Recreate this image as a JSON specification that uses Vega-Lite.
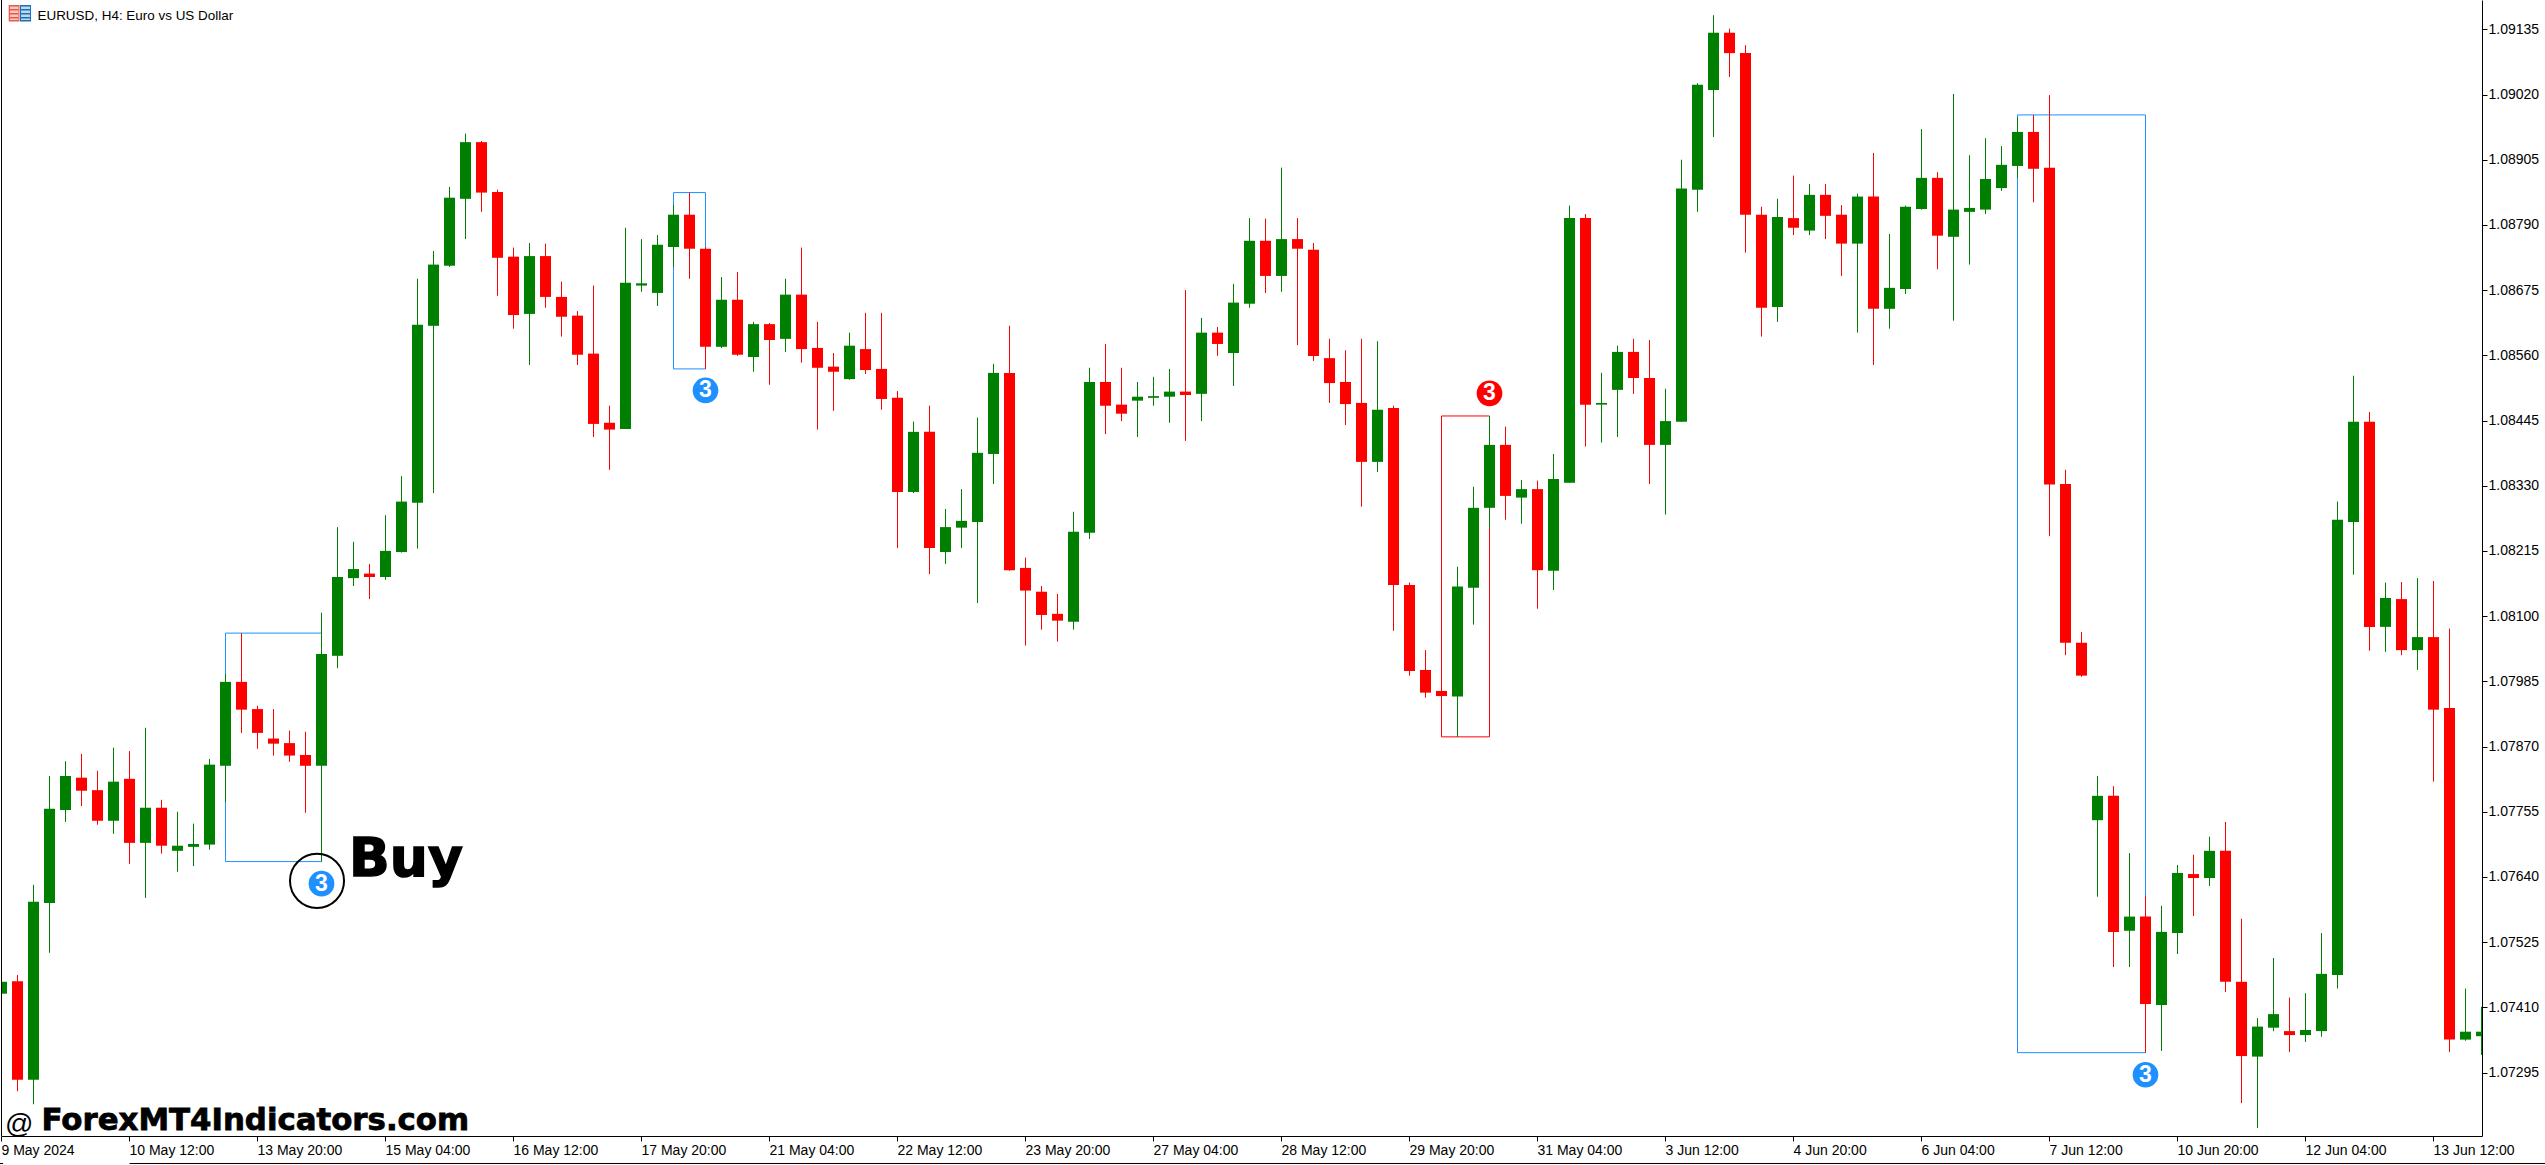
{"$schema":"https://vega.github.io/schema/vega-lite/v6.json","autosize":{"type":"none"},"padding":{"left":1,"top":0,"right":63,"bottom":29},"width":2481,"height":1136,"background":"#ffffff","config":{"view":{"stroke":null}},
"datasets":{
"candles":[
{"k":0,"open":1.07434,"high":1.0746,"low":1.07427,"close":1.07455},
{"k":1,"open":1.07456,"high":1.07467,"low":1.07262,"close":1.07282},
{"k":2,"open":1.07282,"high":1.07626,"low":1.07239,"close":1.07596},
{"k":3,"open":1.07594,"high":1.07818,"low":1.07506,"close":1.0776},
{"k":4,"open":1.07758,"high":1.07844,"low":1.07737,"close":1.07818},
{"k":5,"open":1.07815,"high":1.07857,"low":1.07765,"close":1.07792},
{"k":6,"open":1.07793,"high":1.07827,"low":1.07732,"close":1.07739},
{"k":7,"open":1.07739,"high":1.07868,"low":1.07716,"close":1.07808},
{"k":8,"open":1.07813,"high":1.07862,"low":1.07663,"close":1.077},
{"k":9,"open":1.077,"high":1.07903,"low":1.07603,"close":1.07762},
{"k":10,"open":1.07762,"high":1.07776,"low":1.07681,"close":1.07695},
{"k":11,"open":1.07686,"high":1.07755,"low":1.07649,"close":1.07695},
{"k":12,"open":1.07693,"high":1.07734,"low":1.07659,"close":1.07698},
{"k":13,"open":1.07697,"high":1.07848,"low":1.07688,"close":1.07838},
{"k":14,"open":1.07836,"high":1.07998,"low":1.07772,"close":1.07984},
{"k":15,"open":1.07984,"high":1.0807,"low":1.07894,"close":1.07935},
{"k":16,"open":1.07936,"high":1.07942,"low":1.07866,"close":1.07894},
{"k":17,"open":1.07884,"high":1.07936,"low":1.07854,"close":1.07875},
{"k":18,"open":1.07876,"high":1.07898,"low":1.07843,"close":1.07854},
{"k":19,"open":1.07855,"high":1.07896,"low":1.07753,"close":1.07836},
{"k":20,"open":1.07836,"high":1.08106,"low":1.07667,"close":1.08033},
{"k":21,"open":1.0803,"high":1.08257,"low":1.08008,"close":1.08169},
{"k":22,"open":1.08167,"high":1.08231,"low":1.08153,"close":1.08183},
{"k":23,"open":1.08175,"high":1.08192,"low":1.0813,"close":1.08169},
{"k":24,"open":1.08169,"high":1.08278,"low":1.08164,"close":1.08215},
{"k":25,"open":1.08213,"high":1.08347,"low":1.08212,"close":1.08302},
{"k":26,"open":1.083,"high":1.08695,"low":1.08219,"close":1.08614},
{"k":27,"open":1.08612,"high":1.08744,"low":1.08317,"close":1.0872},
{"k":28,"open":1.08718,"high":1.08857,"low":1.08716,"close":1.08838},
{"k":29,"open":1.08836,"high":1.08951,"low":1.08765,"close":1.08936},
{"k":30,"open":1.08936,"high":1.08938,"low":1.08813,"close":1.08847},
{"k":31,"open":1.08848,"high":1.08852,"low":1.08665,"close":1.08732},
{"k":32,"open":1.08734,"high":1.0875,"low":1.08607,"close":1.08631},
{"k":33,"open":1.08633,"high":1.08758,"low":1.08543,"close":1.08735},
{"k":34,"open":1.08735,"high":1.08757,"low":1.08644,"close":1.08663},
{"k":35,"open":1.08663,"high":1.0869,"low":1.08593,"close":1.08628},
{"k":36,"open":1.0863,"high":1.08638,"low":1.08543,"close":1.08561},
{"k":37,"open":1.08563,"high":1.08683,"low":1.08416,"close":1.08439},
{"k":38,"open":1.08441,"high":1.08471,"low":1.08358,"close":1.08429},
{"k":39,"open":1.0843,"high":1.08785,"low":1.0843,"close":1.08688},
{"k":40,"open":1.08683,"high":1.08765,"low":1.08672,"close":1.08687},
{"k":41,"open":1.0867,"high":1.08772,"low":1.08647,"close":1.08755},
{"k":42,"open":1.08751,"high":1.08825,"low":1.08716,"close":1.08808},
{"k":43,"open":1.08808,"high":1.08847,"low":1.08695,"close":1.08748},
{"k":44,"open":1.08748,"high":1.08751,"low":1.08536,"close":1.08575},
{"k":45,"open":1.08575,"high":1.08698,"low":1.08573,"close":1.08658},
{"k":46,"open":1.08658,"high":1.08707,"low":1.08559,"close":1.08561},
{"k":47,"open":1.08557,"high":1.08619,"low":1.08531,"close":1.08615},
{"k":48,"open":1.08615,"high":1.08617,"low":1.08508,"close":1.08587},
{"k":49,"open":1.08589,"high":1.08695,"low":1.08566,"close":1.08667},
{"k":50,"open":1.08667,"high":1.0875,"low":1.08547,"close":1.08571},
{"k":51,"open":1.08573,"high":1.08619,"low":1.08429,"close":1.08538},
{"k":52,"open":1.0854,"high":1.08564,"low":1.08462,"close":1.08531},
{"k":53,"open":1.08518,"high":1.086,"low":1.08517,"close":1.08577},
{"k":54,"open":1.08571,"high":1.08635,"low":1.08527,"close":1.08534},
{"k":55,"open":1.08536,"high":1.08635,"low":1.08464,"close":1.08483},
{"k":56,"open":1.08485,"high":1.08497,"low":1.0822,"close":1.08319},
{"k":57,"open":1.08319,"high":1.08443,"low":1.08317,"close":1.08425},
{"k":58,"open":1.08425,"high":1.08471,"low":1.08174,"close":1.0822},
{"k":59,"open":1.08213,"high":1.08289,"low":1.08192,"close":1.08257},
{"k":60,"open":1.08256,"high":1.08324,"low":1.0822,"close":1.08268},
{"k":61,"open":1.08266,"high":1.0845,"low":1.08123,"close":1.08388},
{"k":62,"open":1.08386,"high":1.08545,"low":1.08333,"close":1.08529},
{"k":63,"open":1.08529,"high":1.08612,"low":1.0818,"close":1.08181},
{"k":64,"open":1.08185,"high":1.08203,"low":1.08048,"close":1.08145},
{"k":65,"open":1.08143,"high":1.08153,"low":1.08076,"close":1.08102},
{"k":66,"open":1.08104,"high":1.08139,"low":1.08055,"close":1.08092},
{"k":67,"open":1.0809,"high":1.08284,"low":1.08076,"close":1.08249},
{"k":68,"open":1.08247,"high":1.08538,"low":1.08236,"close":1.08513},
{"k":69,"open":1.08513,"high":1.0858,"low":1.08421,"close":1.08471},
{"k":70,"open":1.08473,"high":1.08538,"low":1.08444,"close":1.08457},
{"k":71,"open":1.0848,"high":1.08513,"low":1.08416,"close":1.08487},
{"k":72,"open":1.08485,"high":1.08522,"low":1.08471,"close":1.08488},
{"k":73,"open":1.08487,"high":1.08536,"low":1.08441,"close":1.08496},
{"k":74,"open":1.08496,"high":1.08675,"low":1.08409,"close":1.0849},
{"k":75,"open":1.08492,"high":1.08626,"low":1.08444,"close":1.086},
{"k":76,"open":1.086,"high":1.0861,"low":1.08559,"close":1.0858},
{"k":77,"open":1.08564,"high":1.08686,"low":1.08506,"close":1.08653},
{"k":78,"open":1.08651,"high":1.08802,"low":1.08644,"close":1.08762},
{"k":79,"open":1.08762,"high":1.08801,"low":1.0867,"close":1.087},
{"k":80,"open":1.087,"high":1.08891,"low":1.08672,"close":1.08765},
{"k":81,"open":1.08765,"high":1.08802,"low":1.08578,"close":1.08748},
{"k":82,"open":1.08746,"high":1.08758,"low":1.0855,"close":1.08559},
{"k":83,"open":1.08555,"high":1.08589,"low":1.08476,"close":1.08511},
{"k":84,"open":1.08513,"high":1.08569,"low":1.08437,"close":1.08474},
{"k":85,"open":1.08476,"high":1.08589,"low":1.08293,"close":1.08372},
{"k":86,"open":1.08372,"high":1.08585,"low":1.08354,"close":1.08464},
{"k":87,"open":1.08467,"high":1.08471,"low":1.08074,"close":1.08155},
{"k":88,"open":1.08155,"high":1.08159,"low":1.07995,"close":1.08003},
{"k":89,"open":1.08005,"high":1.0804,"low":1.07956,"close":1.07965},
{"k":90,"open":1.07968,"high":1.07973,"low":1.07938,"close":1.07959},
{"k":91,"open":1.07958,"high":1.08187,"low":1.07887,"close":1.08152},
{"k":92,"open":1.0815,"high":1.08328,"low":1.08085,"close":1.08291},
{"k":93,"open":1.08291,"high":1.08453,"low":1.08256,"close":1.08402},
{"k":94,"open":1.08402,"high":1.08434,"low":1.0827,"close":1.08312},
{"k":95,"open":1.08309,"high":1.0834,"low":1.08263,"close":1.08324},
{"k":96,"open":1.08324,"high":1.08339,"low":1.08113,"close":1.08181},
{"k":97,"open":1.0818,"high":1.08386,"low":1.08146,"close":1.08342},
{"k":98,"open":1.08335,"high":1.08824,"low":1.08335,"close":1.08802},
{"k":99,"open":1.08802,"high":1.08809,"low":1.08399,"close":1.08473},
{"k":100,"open":1.08473,"high":1.08529,"low":1.08406,"close":1.08476},
{"k":101,"open":1.08499,"high":1.08577,"low":1.08416,"close":1.08566},
{"k":102,"open":1.08566,"high":1.08589,"low":1.08492,"close":1.0852},
{"k":103,"open":1.0852,"high":1.08587,"low":1.08333,"close":1.08402},
{"k":104,"open":1.08402,"high":1.08501,"low":1.08279,"close":1.08444},
{"k":105,"open":1.08443,"high":1.08905,"low":1.08443,"close":1.08854},
{"k":106,"open":1.08852,"high":1.0904,"low":1.08813,"close":1.09037},
{"k":107,"open":1.09028,"high":1.0916,"low":1.08945,"close":1.09129},
{"k":108,"open":1.09129,"high":1.09136,"low":1.09051,"close":1.09093},
{"k":109,"open":1.09093,"high":1.09107,"low":1.08741,"close":1.08808},
{"k":110,"open":1.08808,"high":1.08822,"low":1.08593,"close":1.08644},
{"k":111,"open":1.08645,"high":1.08836,"low":1.08619,"close":1.08804},
{"k":112,"open":1.08802,"high":1.08877,"low":1.08772,"close":1.08785},
{"k":113,"open":1.0878,"high":1.08862,"low":1.08772,"close":1.08843},
{"k":114,"open":1.08843,"high":1.08862,"low":1.08765,"close":1.08806},
{"k":115,"open":1.08808,"high":1.08825,"low":1.087,"close":1.08757},
{"k":116,"open":1.08757,"high":1.08845,"low":1.086,"close":1.0884},
{"k":117,"open":1.0884,"high":1.08917,"low":1.08543,"close":1.08642},
{"k":118,"open":1.08642,"high":1.08774,"low":1.08607,"close":1.08679},
{"k":119,"open":1.08677,"high":1.08824,"low":1.08668,"close":1.08822},
{"k":120,"open":1.08818,"high":1.08959,"low":1.08817,"close":1.08873},
{"k":121,"open":1.08873,"high":1.08883,"low":1.08712,"close":1.08771},
{"k":122,"open":1.08769,"high":1.09021,"low":1.08621,"close":1.08817},
{"k":123,"open":1.08813,"high":1.08913,"low":1.0872,"close":1.0882},
{"k":124,"open":1.08817,"high":1.08943,"low":1.08809,"close":1.08871},
{"k":125,"open":1.08855,"high":1.08929,"low":1.0885,"close":1.08896},
{"k":126,"open":1.08894,"high":1.0898,"low":1.08873,"close":1.08954},
{"k":127,"open":1.08954,"high":1.08984,"low":1.0883,"close":1.08889},
{"k":128,"open":1.08891,"high":1.09019,"low":1.08241,"close":1.08332},
{"k":129,"open":1.08333,"high":1.08358,"low":1.08031,"close":1.08053},
{"k":130,"open":1.08053,"high":1.08072,"low":1.07993,"close":1.07995},
{"k":131,"open":1.0774,"high":1.07818,"low":1.07605,"close":1.07783},
{"k":132,"open":1.07783,"high":1.078,"low":1.07481,"close":1.07543},
{"k":133,"open":1.07545,"high":1.07682,"low":1.07481,"close":1.0757},
{"k":134,"open":1.0757,"high":1.07607,"low":1.0733,"close":1.07416},
{"k":135,"open":1.07414,"high":1.07589,"low":1.07333,"close":1.07543},
{"k":136,"open":1.07541,"high":1.07661,"low":1.07504,"close":1.07647},
{"k":137,"open":1.07645,"high":1.07679,"low":1.07571,"close":1.07638},
{"k":138,"open":1.07638,"high":1.07711,"low":1.07624,"close":1.07686},
{"k":139,"open":1.07686,"high":1.07737,"low":1.07437,"close":1.07455},
{"k":140,"open":1.07455,"high":1.07566,"low":1.07241,"close":1.07324},
{"k":141,"open":1.07323,"high":1.07391,"low":1.07197,"close":1.07376},
{"k":142,"open":1.07374,"high":1.07497,"low":1.07368,"close":1.07398},
{"k":143,"open":1.07368,"high":1.07427,"low":1.07331,"close":1.07361},
{"k":144,"open":1.07361,"high":1.07435,"low":1.07349,"close":1.0737},
{"k":145,"open":1.07368,"high":1.07541,"low":1.07358,"close":1.07469},
{"k":146,"open":1.07467,"high":1.08302,"low":1.07443,"close":1.0827},
{"k":147,"open":1.08266,"high":1.08524,"low":1.08173,"close":1.08443},
{"k":148,"open":1.08443,"high":1.0846,"low":1.08039,"close":1.08081},
{"k":149,"open":1.08081,"high":1.08159,"low":1.08037,"close":1.08132},
{"k":150,"open":1.0813,"high":1.0816,"low":1.08031,"close":1.0804},
{"k":151,"open":1.0804,"high":1.08167,"low":1.08005,"close":1.08063},
{"k":152,"open":1.08063,"high":1.08162,"low":1.07808,"close":1.07935},
{"k":153,"open":1.07938,"high":1.08078,"low":1.07331,"close":1.07353},
{"k":154,"open":1.07353,"high":1.07443,"low":1.07351,"close":1.07367},
{"k":155,"open":1.07359,"high":1.07411,"low":1.07326,"close":1.07367}
],
"boxes":[
{"from":14,"to":20,"top":1.0807,"bottom":1.07667,"kind":"buy"},
{"from":42,"to":44,"top":1.08847,"bottom":1.08536,"kind":"buy"},
{"from":90,"to":93,"top":1.08453,"bottom":1.07887,"kind":"sell"},
{"from":126,"to":134,"top":1.08984,"bottom":1.0733,"kind":"buy"}
],
"signals":[
{"k":20,"price":1.07628,"kind":"buy","n":"3"},
{"k":44,"price":1.08498,"kind":"buy","n":"3"},
{"k":93,"price":1.08493,"kind":"sell","n":"3"},
{"k":134,"price":1.07291,"kind":"buy","n":"3"}
],
"icon":[
{"a":0.45,"b":1.125,"t":1.091779,"u":1.091488,"part":"redEdge"},
{"a":1.156,"b":1.844,"t":1.091779,"u":1.091488,"part":"blueEdge"},
{"a":0.531,"b":1.0625,"t":1.091752,"u":1.091514,"part":"redFill"},
{"a":1.219,"b":1.781,"t":1.091752,"u":1.091514,"part":"blueFill"},
{"a":0.531,"b":1.0625,"t":1.091708,"u":1.091682,"part":"redEdge"},
{"a":0.531,"b":1.0625,"t":1.091638,"u":1.091611,"part":"redEdge"},
{"a":0.531,"b":1.0625,"t":1.091567,"u":1.091541,"part":"redEdge"},
{"a":1.219,"b":1.781,"t":1.091708,"u":1.091682,"part":"blueEdge"},
{"a":1.219,"b":1.781,"t":1.091638,"u":1.091611,"part":"blueEdge"},
{"a":1.219,"b":1.781,"t":1.091567,"u":1.091541,"part":"blueEdge"}
]
},
"layer":[
{"data":{"name":"boxes"},"mark":{"type":"rect","filled":false,"strokeWidth":1},"encoding":{
"x":{"field":"from","type":"quantitative","scale":{"domain":[-0.03125,155.03125],"nice":false,"zero":false,"padding":0},"title":null,"axis":{"values":[0,8,16,24,32,40,48,56,64,72,80,88,96,104,112,120,128,136,144,152],"labelExpr":"['9 May 2024','10 May 12:00','13 May 20:00','15 May 04:00','16 May 12:00','17 May 20:00','21 May 04:00','22 May 12:00','23 May 20:00','27 May 04:00','28 May 12:00','29 May 20:00','31 May 04:00','3 Jun 12:00','4 Jun 20:00','6 Jun 04:00','7 Jun 12:00','10 Jun 20:00','12 Jun 04:00','13 Jun 12:00'][datum.value/8]","grid":false,"tickSize":5,"tickColor":"#000000","tickOffset":-0.5,"domainColor":"#000000","labelColor":"#000000","labelFont":"Liberation Sans","labelFontSize":14,"labelAlign":"left","labelBaseline":"top","labelPadding":2,"labelOverlap":false,"labelFlush":false,"labelBound":false,"zindex":1}},
"x2":{"field":"to"},
"y":{"field":"top","type":"quantitative","scale":{"domain":[1.07183,1.091867],"nice":false,"zero":false,"padding":0},"title":null,"axis":{"orient":"right","values":[1.09135,1.0902,1.08905,1.0879,1.08675,1.0856,1.08445,1.0833,1.08215,1.081,1.07985,1.0787,1.07755,1.0764,1.07525,1.0741,1.07295],"format":".5f","grid":false,"tickSize":5,"tickColor":"#000000","domainColor":"#000000","labelColor":"#000000","labelFont":"Liberation Sans","labelFontSize":14,"labelPadding":1,"labelOverlap":false,"labelFlush":false,"labelBound":false,"zindex":1}},
"y2":{"field":"bottom"},
"color":{"field":"kind","type":"nominal","scale":{"domain":["buy","sell"],"range":["#1e90ff","#ff0000"]},"legend":null}}},
{"data":{"name":"candles"},"mark":{"type":"rule","strokeWidth":1,"clip":true},"encoding":{
"x":{"field":"k","type":"quantitative","scale":{"domain":[-0.03125,155.03125],"nice":false,"zero":false,"padding":0},"title":null},
"y":{"field":"high","type":"quantitative","scale":{"domain":[1.07183,1.091867],"nice":false,"zero":false,"padding":0},"title":null},
"y2":{"field":"low"},
"stroke":{"condition":{"test":"datum.close>=datum.open","value":"#008000"},"value":"#ff0000"}}},
{"data":{"name":"candles"},"mark":{"type":"bar","size":11,"orient":"vertical","clip":true},"encoding":{
"x":{"field":"k","type":"quantitative","scale":{"domain":[-0.03125,155.03125],"nice":false,"zero":false,"padding":0},"title":null},
"y":{"field":"open","type":"quantitative","scale":{"domain":[1.07183,1.091867],"nice":false,"zero":false,"padding":0},"title":null},
"y2":{"field":"close"},
"fill":{"condition":{"test":"datum.close>=datum.open","value":"#008000"},"value":"#ff0000"}}},
{"data":{"values":[{"k":0,"top":1.091867,"bottom":1.07183}]},"mark":{"type":"rule","color":"#000000","strokeWidth":1},"encoding":{
"x":{"field":"k","type":"quantitative","scale":{"domain":[-0.03125,155.03125],"nice":false,"zero":false,"padding":0},"title":null},
"y":{"field":"top","type":"quantitative","scale":{"domain":[1.07183,1.091867],"nice":false,"zero":false,"padding":0},"title":null},
"y2":{"field":"bottom"}}},
{"data":{"values":[{"from":-0.1,"to":0.1,"price":1.071345},{"from":8,"to":159,"price":1.071345}]},"mark":{"type":"rule","color":"#000000","strokeWidth":1},"encoding":{
"x":{"field":"from","type":"quantitative","scale":{"domain":[-0.03125,155.03125],"nice":false,"zero":false,"padding":0},"title":null},
"x2":{"field":"to"},
"y":{"field":"price","type":"quantitative","scale":{"domain":[1.07183,1.091867],"nice":false,"zero":false,"padding":0},"title":null}}},
{"data":{"name":"icon"},"mark":{"type":"rect"},"encoding":{
"x":{"field":"a","type":"quantitative","scale":{"domain":[-0.03125,155.03125],"nice":false,"zero":false,"padding":0},"title":null},
"x2":{"field":"b"},
"y":{"field":"t","type":"quantitative","scale":{"domain":[1.07183,1.091867],"nice":false,"zero":false,"padding":0},"title":null},
"y2":{"field":"u"},
"fill":{"field":"part","type":"nominal","scale":{"domain":["redEdge","redFill","blueEdge","blueFill"],"range":["#e8594a","#f7c9c0","#1b6fb5","#bcd9ee"]},"legend":null}}},
{"data":{"values":[{"k":19.72,"price":1.07633}]},"mark":{"type":"point","shape":"circle","filled":false,"size":2922,"color":"#000000","strokeWidth":2,"opacity":1},"encoding":{
"x":{"field":"k","type":"quantitative","scale":{"domain":[-0.03125,155.03125],"nice":false,"zero":false,"padding":0},"title":null},
"y":{"field":"price","type":"quantitative","scale":{"domain":[1.07183,1.091867],"nice":false,"zero":false,"padding":0},"title":null}}},
{"data":{"name":"signals"},"mark":{"type":"point","shape":"circle","filled":true,"size":660,"opacity":1},"encoding":{
"x":{"field":"k","type":"quantitative","scale":{"domain":[-0.03125,155.03125],"nice":false,"zero":false,"padding":0},"title":null},
"y":{"field":"price","type":"quantitative","scale":{"domain":[1.07183,1.091867],"nice":false,"zero":false,"padding":0},"title":null},
"fill":{"field":"kind","type":"nominal","scale":{"domain":["buy","sell"],"range":["#1e90ff","#ff0000"]},"legend":null}}},
{"data":{"name":"signals"},"mark":{"type":"text","font":"Liberation Sans","fontWeight":"bold","fontSize":23,"color":"#ffffff","align":"center","baseline":"middle"},"encoding":{
"x":{"field":"k","type":"quantitative","scale":{"domain":[-0.03125,155.03125],"nice":false,"zero":false,"padding":0},"title":null},
"y":{"field":"price","type":"quantitative","scale":{"domain":[1.07183,1.091867],"nice":false,"zero":false,"padding":0},"title":null},
"text":{"field":"n"}}},
{"data":{"values":[{"k":21.72,"price":1.07642,"t":"Buy"}]},"mark":{"type":"text","font":"DejaVu Sans","fontWeight":"bold","fontSize":53.5,"color":"#000000","stroke":"#000000","strokeWidth":1.5,"align":"left","baseline":"alphabetic"},"encoding":{
"x":{"field":"k","type":"quantitative","scale":{"domain":[-0.03125,155.03125],"nice":false,"zero":false,"padding":0},"title":null},
"y":{"field":"price","type":"quantitative","scale":{"domain":[1.07183,1.091867],"nice":false,"zero":false,"padding":0},"title":null},
"text":{"field":"t"}}},
{"data":{"values":[{"k":2.5,"price":1.07193,"t":"ForexMT4Indicators.com"}]},"mark":{"type":"text","font":"DejaVu Sans","fontWeight":"bold","fontSize":30.8,"color":"#000000","stroke":"#000000","strokeWidth":0.8,"align":"left","baseline":"alphabetic"},"encoding":{
"x":{"field":"k","type":"quantitative","scale":{"domain":[-0.03125,155.03125],"nice":false,"zero":false,"padding":0},"title":null},
"y":{"field":"price","type":"quantitative","scale":{"domain":[1.07183,1.091867],"nice":false,"zero":false,"padding":0},"title":null},
"text":{"field":"t"}}},
{"data":{"values":[{"k":0.22,"price":1.07188,"t":"@"}]},"mark":{"type":"text","font":"Liberation Sans","fontSize":28,"color":"#000000","align":"left","baseline":"alphabetic"},"encoding":{
"x":{"field":"k","type":"quantitative","scale":{"domain":[-0.03125,155.03125],"nice":false,"zero":false,"padding":0},"title":null},
"y":{"field":"price","type":"quantitative","scale":{"domain":[1.07183,1.091867],"nice":false,"zero":false,"padding":0},"title":null},
"text":{"field":"t"}}},
{"data":{"values":[{"k":2.25,"price":1.09151,"t":"EURUSD, H4:  Euro vs US Dollar"}]},"mark":{"type":"text","font":"Liberation Sans","fontSize":13.45,"color":"#000000","align":"left","baseline":"alphabetic"},"encoding":{
"x":{"field":"k","type":"quantitative","scale":{"domain":[-0.03125,155.03125],"nice":false,"zero":false,"padding":0},"title":null},
"y":{"field":"price","type":"quantitative","scale":{"domain":[1.07183,1.091867],"nice":false,"zero":false,"padding":0},"title":null},
"text":{"field":"t"}}}
],
"resolve":{"scale":{"color":"independent","fill":"independent"}}}
